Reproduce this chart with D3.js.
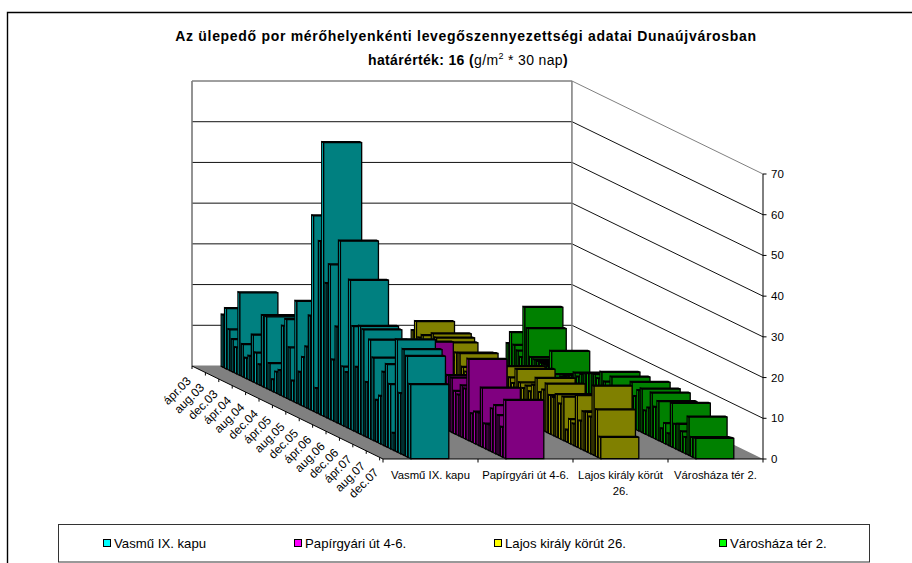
<!DOCTYPE html>
<html><head><meta charset="utf-8"><style>html,body{margin:0;padding:0;background:#fff}svg{display:block}text{font-family:"Liberation Sans",Arial,sans-serif;fill:#000}</style>
<script src="https://cdn.jsdelivr.net/npm/d3@7"></script></head><body><div id="c"></div>
<script>
const seriesNames=["Vasmű IX. kapu","Papírgyári út 4-6.","Lajos király körút 26.","Városháza tér 2."];
const tickLabels=["ápr.03","aug.03","dec.03","ápr.04","aug.04","dec.04","ápr.05","aug.05","dec.05","ápr.06","aug.06","dec.06","ápr.07","aug.07","dec.07"];
const valueTicks=[0,10,20,30,40,50,60,70];
const vasmu=[12.8,14.8,10,8,6.4,20.3,8,5,5.9,11.5,7.5,5,17.5,17.6,6.5,2.9,5.2,6,17.3,19.3,12.8,5,25,8,12,15,23,48,6,42.5,67.2,33,38,15,23.5,45,14.5,13.5,36.6,25.6,16,26.5,26,13.5,24.3,20.3,10.3,11.7,18,20.3,15.8,4.2,27.6,14.8,26,24.7,18.2];
const papir=[9,10,8,11,9,10,8,9,11,8,10,9,12,9,8,10,9,8,11,9,10,8,12,9,10,9,11,10,12,17.8,10,9,9,10,9,11,10,11,13,13.6,13.4,10.5,10,12.7,12.3,20,7,7.8,8,14.5,6.1,6.3,10.6,11.8,9.8,7.3,14.3];
const lajos=[9,11.6,8,9,8,8,10.6,10,9.2,6,6,6,6.5,8.7,9,6,5.2,5,6,5,5,6,7,6,7,8,8,8,11.4,9,8,11.9,9,8,9,8,10,12.1,9,10,11.9,9.5,9.4,10.5,8.6,10.7,3,6,5.3,12.7,6.8,9.5,9.8,9,17,11.6,5.25];
const varoshaza=[5.8,8.9,6.2,5.2,4,16.7,11.9,5.2,5,5,5,5,5,9.1,3.8,3,4,4.5,5,5.5,6.6,6,7,7.6,8,8.4,8.6,8,10,8,7,10,8,8,7,8,9,11.1,8,9.9,10.7,5.7,6.8,10.9,7.8,9.6,3.3,5,2.9,10.8,6,6.4,5,4,9.4,4.8,5];
const allSeries=[vasmu,papir,lajos,varoshaza];
const frontColors=["#008080","#800080","#808000","#008000"];
const sideColors=["#00ffff","#ff00ff","#ffff00","#00ff00"];

const W=912,H=563;
const svg=d3.select("#c").append("svg").attr("width",W).attr("height",H);
// oblique projection
const x0=383,x1=763,yBase=459,dX=191,dY=93,nRows=vasmu.length;
const xS=d3.scaleBand().domain(d3.range(4)).range([x0,x1]).paddingInner(0.6).paddingOuter(0.3);
const xCat=d3.scaleBand().domain(d3.range(4)).range([x0,x1]);
const depth=d3.scaleLinear().domain([0,nRows]).range([1,0]); // 1 = back wall, 0 = front
const vS=d3.scaleLinear().domain([0,70]).range([0,285]);
const P=(x,d,v)=>[x-dX*depth(d),yBase-dY*depth(d)-vS(v)];
const poly=pts=>pts.map(p=>p.map(n=>n.toFixed(2)).join(",")).join(" ");

// frame
svg.append("path").attr("d",`M7.5,${H}V12.5H${W}`).attr("fill","none").attr("stroke","#000").attr("stroke-width",1.4);

// walls
svg.append("polygon").attr("points",poly([P(x0,0,70),P(x1,0,70),P(x1,0,0),P(x0,0,0)])).attr("fill","#fff").attr("stroke","#808080");
svg.append("polygon").attr("points",poly([P(x1,0,0),P(x1,0,70),P(x1,nRows,70),P(x1,nRows,0)])).attr("fill","#fff");
// floor
svg.append("polygon").attr("points",poly([P(x0,0,0),P(x1,0,0),P(x1,nRows,0),P(x0,nRows,0)])).attr("fill","#808080");
// grid
valueTicks.filter(v=>v>0).forEach(v=>{
  const a=P(x0,0,v),b=P(x1,0,v),c=P(x1,nRows,v);
  const col=v===70?"#808080":"#111";
  svg.append("path").attr("d",`M${a}L${b}L${c}`).attr("fill","none").attr("stroke",col).attr("stroke-width",1);
});
svg.append("path").attr("d",`M${P(x0,0,70)}L${P(x0,0,0)}M${P(x1,0,70)}L${P(x1,0,0)}`).attr("stroke","#808080").attr("stroke-width",1.4).attr("fill","none");

// bars: back row first
const g=svg.append("g");
const barDepth=0.58;
for(let i=0;i<nRows;i++){
  allSeries.forEach((vals,s)=>{
    const v=vals[i];
    const xl=xS(s),xr=xl+xS.bandwidth();
    const df=i+0.5+barDepth/2,db=i+0.5-barDepth/2;
    const bar=g.append("g").attr("stroke","#000").attr("stroke-width",1.3).attr("stroke-linejoin","miter");
    bar.append("polygon").attr("points",poly([P(xl,db,0),P(xl,db,v),P(xl,df,v),P(xl,df,0)])).attr("fill",sideColors[s]);
    bar.append("polygon").attr("points",poly([P(xl,db,v),P(xr,db,v),P(xr,df,v),P(xl,df,v)])).attr("fill",frontColors[s]);
    bar.append("polygon").attr("points",poly([P(xl,df,0),P(xl,df,v),P(xr,df,v),P(xr,df,0)])).attr("fill",frontColors[s]);
  });
}

// axes lines
const ax=svg.append("g").attr("stroke","#000").attr("fill","none");
ax.append("path").attr("d",`M${P(x0,0,0)}L${P(x0,nRows,0)}L${P(x1,nRows,0)}L${P(x1,nRows,70)}`);
// right value axis
valueTicks.forEach(v=>{
  const [x,y]=P(x1,nRows,v);
  ax.append("line").attr("x1",x).attr("x2",x+3.5).attr("y1",y).attr("y2",y);
  svg.append("text").attr("x",x+8).attr("y",y+4).attr("font-size",11.5).text(v);
});
// series ticks and labels
d3.range(5).forEach(k=>{
  const x=x0+k*xCat.step();
  ax.append("line").attr("x1",x).attr("x2",x).attr("y1",yBase).attr("y2",yBase+3.5);
});
const catLines=[["Vasmű IX. kapu"],["Papírgyári út 4-6."],["Lajos király körút","26."],["Városháza tér 2."]];
catLines.forEach((ls,s)=>{
  ls.forEach((t,j)=>svg.append("text").attr("x",xCat(s)+xCat.bandwidth()/2).attr("y",479+j*16).attr("text-anchor","middle").attr("font-size",11.3).text(t));
});
// depth ticks + labels
tickLabels.forEach((t,k)=>{
  const d=k*4;
  const [x,y]=P(x0,d,0);
  ax.append("line").attr("x1",x).attr("x2",x).attr("y1",y).attr("y2",y+3);
  const [lx,ly]=P(x0,d+0.5,0);
  svg.append("text").attr("transform",`translate(${lx-2},${ly+15}) rotate(-45)`).attr("text-anchor","end").attr("font-size",12).text(t);
});
// title
svg.append("text").attr("x",466).attr("y",40.5).attr("text-anchor","middle").attr("font-size",14).attr("letter-spacing",0.7).attr("font-weight","bold").text("Az ülepedő por mérőhelyenkénti levegőszennyezettségi adatai Dunaújvárosban");
const t2=svg.append("text").attr("x",468).attr("y",65).attr("text-anchor","middle").attr("font-size",14).attr("letter-spacing",0.35).attr("font-weight","bold");
t2.append("tspan").text("határérték: 16 (");
t2.append("tspan").attr("font-weight","normal").text("g/m");
t2.append("tspan").attr("font-weight","normal").attr("font-size",9).attr("dy",-6).text("2");
t2.append("tspan").attr("font-weight","normal").attr("dy",6).text(" * 30 nap");
t2.append("tspan").text(")");
// legend
svg.append("rect").attr("x",58.5).attr("y",524.5).attr("width",811).attr("height",37.5).attr("fill","#fff").attr("stroke","#333").attr("stroke-width",1);
const legX=[103,294,494,719];
seriesNames.forEach((n,s)=>{
  svg.append("rect").attr("x",legX[s]+0.5).attr("y",539.5).attr("width",7).attr("height",7).attr("fill",sideColors[s]).attr("stroke","#000");
  svg.append("text").attr("x",legX[s]+11).attr("y",548).attr("font-size",13.2).text(n);
});
</script></body></html>
